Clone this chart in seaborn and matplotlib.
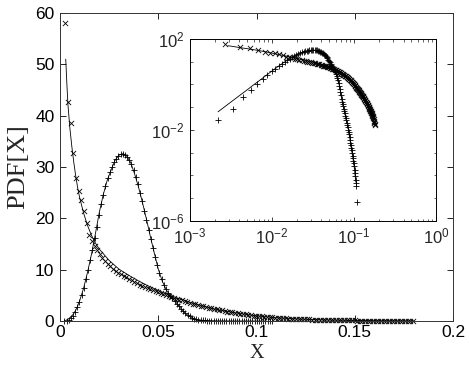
import matplotlib
matplotlib.use("Agg")
import matplotlib.pyplot as plt
import numpy as np
import pandas as pd
import seaborn as sns
from matplotlib.ticker import FixedLocator, FixedFormatter, NullFormatter, LogLocator

# ---------------- data ----------------
# series A (x markers): decaying distribution
a_x = [0.00270, 0.00405, 0.00540, 0.00675, 0.00810, 0.00945, 0.01080, 0.01215, 0.01350, 0.01485,
       0.01620, 0.01755, 0.01890, 0.02025, 0.02160, 0.02295, 0.02430, 0.02565, 0.02700, 0.02835,
       0.02970, 0.03105, 0.03240, 0.03375, 0.03510, 0.03645, 0.03780, 0.03915, 0.04050, 0.04185,
       0.04320, 0.04455, 0.04590, 0.04725, 0.04860, 0.04995, 0.05130, 0.05265, 0.05400, 0.05535,
       0.05670, 0.05805, 0.05940, 0.06075, 0.06210, 0.06345, 0.06480, 0.06615, 0.06750, 0.06885,
       0.07020, 0.07155, 0.07290, 0.07425, 0.07560, 0.07695, 0.07830, 0.07965, 0.08100, 0.08235,
       0.08370, 0.08505, 0.08640, 0.08775, 0.08910, 0.09045, 0.09180, 0.09315, 0.09450, 0.09585,
       0.09720, 0.09855, 0.09990, 0.10125, 0.10260, 0.10395, 0.10530, 0.10665, 0.10800, 0.10935,
       0.11070, 0.11205, 0.11340, 0.11475, 0.11610, 0.11745, 0.11880, 0.12015, 0.12150, 0.12285,
       0.12420, 0.12555, 0.12690, 0.12825, 0.12960, 0.13095, 0.13230, 0.13365, 0.13500, 0.13635,
       0.13770, 0.13905, 0.14040, 0.14175, 0.14310, 0.14445, 0.14580, 0.14715, 0.14850, 0.14985,
       0.15120, 0.15255, 0.15390, 0.15525, 0.15660, 0.15795, 0.15930, 0.16065, 0.16200, 0.16335,
       0.16470, 0.16605, 0.16740, 0.16875, 0.17010, 0.17145, 0.17280, 0.17415, 0.17550, 0.17685,
       0.17820, 0.17955]
a_y = [58.0, 42.7, 38.5, 32.8, 27.9, 25.4, 23.5, 21.4, 19.0, 16.8,
       15.6, 14.6, 13.8, 13.0, 12.3, 11.7, 11.2, 10.7, 10.2, 9.8,
       9.4, 9.1, 8.8, 8.5, 8.2, 7.9, 7.6, 7.35, 7.1, 6.85,
       6.6, 6.4, 6.2, 6.0, 5.8, 5.6, 5.4, 5.2, 5.0, 4.8,
       4.6, 4.45, 4.3, 4.15, 4.0, 3.85, 3.7, 3.55, 3.4, 3.25,
       3.1, 2.97, 2.84, 2.72, 2.60, 2.48, 2.37, 2.26, 2.15, 2.05,
       1.95, 1.85, 1.76, 1.67, 1.58, 1.50, 1.42, 1.34, 1.27, 1.20,
       1.13, 1.06, 1.00, 0.94, 0.885, 0.83, 0.78, 0.735, 0.69, 0.65,
       0.613, 0.578, 0.545, 0.514, 0.485, 0.457, 0.431, 0.406, 0.383, 0.361,
       0.340, 0.320, 0.302, 0.285, 0.268, 0.253, 0.238, 0.224, 0.211, 0.199,
       0.187, 0.176, 0.166, 0.156, 0.147, 0.138, 0.129, 0.121, 0.113, 0.106,
       0.099, 0.093, 0.087, 0.081, 0.076, 0.071, 0.066, 0.062, 0.058, 0.054,
       0.0502, 0.0464, 0.0427, 0.0391, 0.0356, 0.0322, 0.0290, 0.0260, 0.0231, 0.0204,
       0.0180, 0.0157]

# fit line for series A
afit_x = [0.0029, 0.0035, 0.004, 0.005, 0.006, 0.007, 0.008, 0.009, 0.010, 0.012, 0.014,
          0.016, 0.018, 0.020, 0.025, 0.030, 0.035, 0.040, 0.045, 0.050, 0.055, 0.060,
          0.065, 0.070, 0.075, 0.080, 0.090, 0.100, 0.110, 0.120, 0.130, 0.140, 0.150,
          0.160, 0.170, 0.180]
afit_y = [51.0, 46.0, 42.3, 37.6, 34.0, 30.9, 28.2, 25.9, 24.0, 21.0, 18.6,
          16.7, 15.2, 14.0, 11.8, 10.1, 8.9, 7.8, 6.8, 5.95, 5.15, 4.45,
          3.8, 3.2, 2.7, 2.2, 1.55, 1.0, 0.63, 0.41, 0.265, 0.17, 0.105,
          0.064, 0.036, 0.016]

# series B (+ markers): peaked distribution
b_x = [0.0022, 0.0033, 0.0044, 0.0055, 0.0066, 0.0077, 0.0088, 0.0099, 0.0110, 0.0121,
       0.0132, 0.0143, 0.0154, 0.0165, 0.0176, 0.0187, 0.0198, 0.0209, 0.0220, 0.0231,
       0.0242, 0.0253, 0.0264, 0.0275, 0.0286, 0.0297, 0.0308, 0.0319, 0.0330, 0.0341,
       0.0352, 0.0363, 0.0374, 0.0385, 0.0396, 0.0407, 0.0418, 0.0429, 0.0440, 0.0451,
       0.0462, 0.0473, 0.0484, 0.0495, 0.0506, 0.0517, 0.0528, 0.0539, 0.0550, 0.0561,
       0.0572, 0.0583, 0.0594, 0.0605, 0.0616, 0.0627, 0.0638, 0.0649, 0.0660, 0.0671,
       0.0682, 0.0693, 0.0704, 0.0715, 0.0726, 0.0737, 0.0748, 0.0759, 0.0770, 0.0781,
       0.0792, 0.0803, 0.0814, 0.0825, 0.0836, 0.0847, 0.0858, 0.0869, 0.0880, 0.0891,
       0.0902, 0.0913, 0.0924, 0.0935, 0.0946, 0.0957, 0.0968, 0.0979, 0.0990, 0.1001,
       0.1012, 0.1023, 0.1034, 0.1045, 0.1056, 0.1067, 0.1078]
b_y = [0.028, 0.083, 0.29, 0.57, 1.05, 1.75, 2.65, 3.8, 5.0, 6.5,
       8.2, 10.0, 11.9, 13.9, 16.1, 18.4, 20.7, 22.8, 24.6, 26.3,
       27.8, 29.0, 30.0, 30.9, 31.6, 32.2, 32.5, 32.6, 32.4, 32.0,
       31.4, 30.5, 29.4, 28.1, 26.6, 25.0, 23.3, 21.5, 19.6, 17.8,
       16.0, 14.2, 12.5, 10.9, 9.4, 8.1, 7.0, 6.2, 5.5, 4.9,
       4.4, 3.9, 3.4, 2.9, 2.4, 1.95, 1.55, 1.2, 0.9, 0.66,
       0.48, 0.34, 0.24, 0.17, 0.135, 0.11, 0.087, 0.069, 0.054, 0.043,
       0.034, 0.027, 0.021, 0.0167, 0.0132, 0.0104, 0.0082, 0.0063, 0.0048, 0.0036,
       0.0028, 0.0021, 0.0016, 0.00125, 0.00097, 0.00074, 0.00057, 0.00044, 0.00034, 0.00026,
       0.00018, 0.00013, 0.000092, 0.000065, 0.000046, 0.000035, 0.000007]

# fit line for series B
bfit_x = [0.0022, 0.003, 0.004, 0.005, 0.006, 0.007, 0.008, 0.009, 0.010,
          0.012, 0.014, 0.016, 0.018, 0.020, 0.022, 0.024, 0.026, 0.028, 0.030,
          0.032, 0.034, 0.036, 0.038, 0.040, 0.042, 0.044, 0.046, 0.048, 0.050,
          0.052, 0.054, 0.056, 0.058, 0.060, 0.062, 0.064, 0.066, 0.068, 0.070, 0.072,
          0.075, 0.080, 0.085, 0.090, 0.095, 0.100, 0.105]
bfit_y = [0.063, 0.147, 0.322, 0.59, 0.98, 1.48, 2.14, 2.95, 3.95,
          6.4, 9.5, 13.0, 17.0, 21.2, 24.6, 27.4, 29.4, 31.3, 32.3,
          32.6, 32.1, 30.8, 28.6, 26.0, 23.0, 19.8, 16.4, 13.2, 10.1,
          7.8, 6.1, 5.0, 4.1, 3.15, 2.25, 1.4, 0.92, 0.5, 0.27, 0.16,
          0.085, 0.03, 0.011, 0.0029, 0.00085, 0.00026, 0.00005]

main_xticks = [0, 0.05, 0.1, 0.15, 0.2]
main_xticklabels = ["0", "0.05", "0.1", "0.15", "0.2"]
main_yticks = [0, 10, 20, 30, 40, 50, 60]
inset_xticks = [1e-3, 1e-2, 1e-1, 1e0]
inset_xticklabels = [r"$10^{-3}$", r"$10^{-2}$", r"$10^{-1}$", r"$10^{0}$"]
inset_yticks = [1e-6, 1e-2, 1e2]
inset_yticklabels = [r"$10^{-6}$", r"$10^{-2}$", r"$10^{2}$"]

df_a = pd.DataFrame({"x": a_x, "y": a_y})
df_b = pd.DataFrame({"x": b_x, "y": b_y})
df_af = pd.DataFrame({"x": afit_x, "y": afit_y})
df_bf = pd.DataFrame({"x": bfit_x, "y": bfit_y})

# ---------------- style ----------------
sns.set_style("ticks")
plt.rcParams["font.family"] = ["Liberation Sans", "DejaVu Sans"]
plt.rcParams["mathtext.fontset"] = "custom"
plt.rcParams["mathtext.rm"] = "Liberation Sans"
plt.rcParams["mathtext.it"] = "Liberation Sans:italic"
plt.rcParams["mathtext.bf"] = "Liberation Sans:bold"
plt.rcParams["axes.linewidth"] = 0.7

fig = plt.figure(figsize=(4.69, 3.65), dpi=100)
fig.patch.set_facecolor("white")


def draw(ax, clip):
    sns.lineplot(data=df_af, x="x", y="y", ax=ax, color="black", lw=0.6,
                 sort=False, estimator=None, legend=False)
    sns.lineplot(data=df_bf, x="x", y="y", ax=ax, color="black", lw=0.6,
                 sort=False, estimator=None, legend=False)
    sns.scatterplot(data=df_a, x="x", y="y", ax=ax, marker="x", s=14,
                    color="black", linewidth=0.6, legend=False)
    sns.scatterplot(data=df_b, x="x", y="y", ax=ax, marker="+", s=24,
                    color="black", linewidth=0.6, legend=False)
    if not clip:
        for c in ax.collections:
            c.set_clip_on(False)


# main axes (bottom at ~321 px, top at ~13 px)
ax = fig.add_axes([0.128, 0.1205, 0.838, 0.844])
draw(ax, clip=False)
ax.set_xlim(0, 0.2)
ax.set_ylim(0, 60)
ax.set_xticks(main_xticks)
ax.set_xticklabels(main_xticklabels)
ax.set_yticks(main_yticks)
ax.tick_params(direction="in", length=4, width=0.6, labelsize=12.5,
               top=True, right=True, pad=4, colors="black")
ax.tick_params(axis="x", pad=3)
for s in ax.spines.values():
    s.set_visible(True)
    s.set_color("#333333")
ax.set_xlabel("X", family=["Liberation Serif", "DejaVu Serif"], fontsize=14.5, va="top")
ax.xaxis.set_label_coords(0.5, -0.073)
ax.set_ylabel("PDF[X]", family=["Liberation Serif", "DejaVu Serif"], fontsize=19, labelpad=4)

# inset axes
ins = fig.add_axes([0.405, 0.395, 0.525, 0.498])
ins.set_xscale("log")
ins.set_yscale("log")
draw(ins, clip=True)
ins.set_xlim(1e-3, 1e0)
ins.set_ylim(1e-6, 1e2)
ins.xaxis.set_major_locator(FixedLocator(inset_xticks))
ins.xaxis.set_major_formatter(FixedFormatter(inset_xticklabels))
ins.xaxis.set_minor_locator(LogLocator(base=10, subs=np.arange(2, 10)))
ins.xaxis.set_minor_formatter(NullFormatter())
ins.yaxis.set_major_locator(FixedLocator(inset_yticks))
ins.yaxis.set_major_formatter(FixedFormatter(inset_yticklabels))
ins.yaxis.set_minor_locator(FixedLocator([1e-5, 1e-4, 1e-3, 1e-1, 1e0, 1e1]))
ins.yaxis.set_minor_formatter(NullFormatter())
ins.tick_params(which="major", direction="in", length=3, width=0.6, labelsize=12,
                top=True, right=True, pad=4)
ins.tick_params(which="minor", direction="in", length=1.8, width=0.5,
                top=True, right=True)
ins.set_xlabel("")
ins.set_ylabel("")
for s in ins.spines.values():
    s.set_visible(True)
    s.set_color("black")

fig.savefig("out.png", dpi=100)
